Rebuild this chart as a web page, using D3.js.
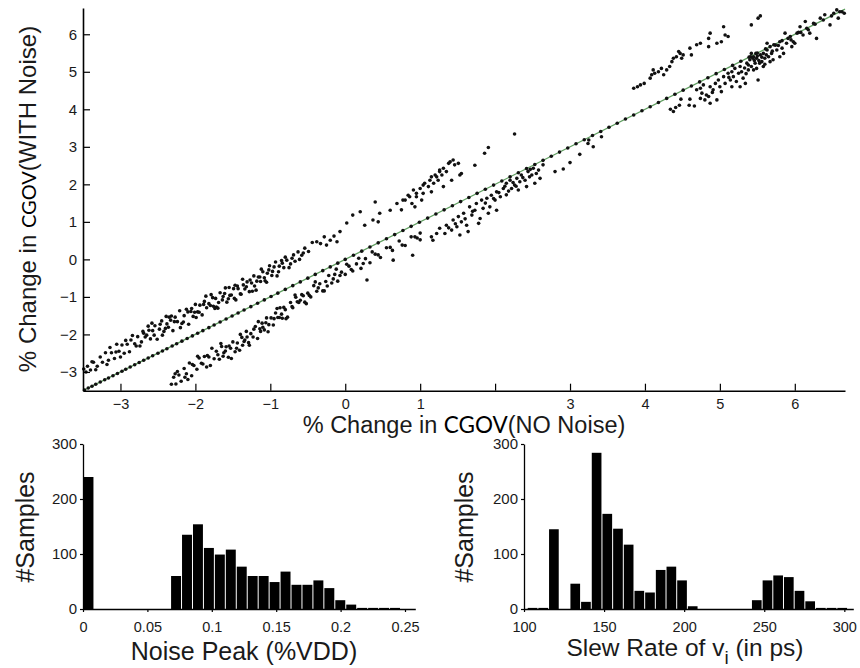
<!DOCTYPE html>
<html><head><meta charset="utf-8">
<script src="https://cdn.jsdelivr.net/npm/d3@7"></script>
<style>body{margin:0;background:#fff} svg{display:block}</style>
</head><body>
<svg id="c" width="860" height="668"></svg>
<script>
// ---------- DATA ----------
const xTicks = [-3,-2,-1,0,1,2,3,4,5,6];
const xTickLabels = ["\u22123","\u22122","\u22121","0","1","","3","4","5","6"];
const yTicks = [-3,-2,-1,0,1,2,3,4,5,6];
const yTickLabels = ["\u22123","\u22122","\u22121","0","1","2","3","4","5","6"];
const lineEnds = [-3.5, 6.67];

const upperBand = [
[-3.49,-2.92],[-3.46,-3.0],[-3.44,-2.85],[-3.40,-2.95],[-3.36,-2.74],[-3.31,-2.85],[-3.27,-2.60],[-3.24,-2.74],[-3.20,-2.49],[-3.16,-2.69],[-3.12,-2.49],[-3.08,-2.64],[-3.05,-2.26],[-3.02,-2.45],[-2.98,-2.28],[-2.95,-2.50],[-2.91,-2.26],[-2.88,-2.46],[-2.84,-2.03],[-2.81,-2.25],[-2.77,-2.06],[-2.74,-2.31],[-2.70,-1.92],[-2.67,-2.07],[-2.63,-1.78],[-2.60,-2.12],[-2.57,-1.90],[-2.54,-1.77],[-2.51,-2.13],[-2.48,-1.86],[-2.45,-1.64],[-2.42,-1.92],[-2.39,-1.52],[-2.36,-1.81],[-2.33,-1.62],[-2.30,-1.90],[-2.27,-1.54],[-2.24,-1.66],[-2.21,-1.37],[-2.18,-1.71],[-2.15,-1.50],[-2.12,-1.33],[-2.09,-1.73],[-2.06,-1.39],[-2.03,-1.52],[-2.00,-1.20],[-1.97,-1.40],[-1.94,-1.22],[-1.91,-1.48],[-1.88,-1.12],[-1.85,-1.29],[-1.82,-1.18],[-1.79,-0.94],[-1.76,-1.25],[-1.73,-1.04],[-1.70,-1.30],[-1.67,-0.89],[-1.64,-1.08],[-1.61,-0.91],[-1.58,-1.14],[-1.55,-0.75],[-1.52,-0.95],[-1.49,-0.78],[-1.46,-1.08],[-1.43,-0.78],[-1.40,-0.92],[-1.37,-0.53],[-1.34,-0.79],[-1.31,-0.60],[-1.28,-0.86],[-1.25,-0.63],[-1.22,-0.44],[-1.19,-0.82],[-1.16,-0.47],[-1.13,-0.59],[-1.10,-0.33],[-1.07,-0.57],[-1.04,-0.37],[-1.01,-0.17],[-0.98,-0.43],[-0.95,-0.20],[-0.91,-0.44],[-0.88,-0.18],[-0.85,-0.03],[-0.82,-0.22],[-0.78,-0.02],[-0.75,-0.22],[-0.71,0.03],[-0.67,-0.05],[-0.63,0.20],[-0.58,0.11],[-0.54,0.30],[-0.49,0.21],[-0.44,0.45],[-0.38,0.47],
[-3.33,-2.94],[-3.14,-2.35],[-3.00,-2.60],[-2.86,-2.15],[-2.72,-2.20],[-2.58,-1.70],[-2.44,-2.02],[-2.32,-1.51],[-2.20,-1.82],[-2.10,-1.40],[-1.99,-1.55],[-1.86,-0.98],[-1.72,-1.27],[-1.60,-0.76],[-1.48,-1.04],[-1.36,-0.68],[-1.24,-0.85],[-1.12,-0.26],[-1.05,-0.61],[-0.93,-0.07],[-0.80,0.06],[-2.65,-2.02],[-2.38,-1.72],[-1.80,-1.23],[-1.54,-0.96],[-1.18,-0.58],
[-3.38,-2.73],[-3.18,-2.80],[-3.06,-2.47],[-2.93,-2.16],[-2.79,-2.31],[-2.69,-1.97],[-2.55,-2.02],[-2.47,-1.73],[-2.40,-1.84],[-2.28,-1.66],[-2.16,-1.67],[-2.05,-1.31],[-1.95,-1.41],[-1.89,-1.20],[-1.77,-1.02],[-1.69,-1.15],[-1.63,-0.99],[-1.56,-1.05],[-1.44,-0.71],[-1.39,-0.93],[-1.32,-0.73],[-1.21,-0.71],[-1.14,-0.47],[-1.08,-0.49],[-0.97,-0.32],[-0.89,-0.33],[-0.84,-0.10],[-0.73,-0.12],[-0.69,0.12],[-0.61,0.00],[-0.56,0.17],[-2.62,-1.89],[-2.35,-1.54],[-2.01,-1.41],[-1.74,-1.31],[-1.47,-0.69],[-1.27,-0.55],[-1.02,-0.28],
[-0.33,0.42],[-0.28,0.60],[-0.25,0.38],[-0.20,0.51],[-0.15,0.62],[-0.11,0.47],[-0.07,0.74],[0.02,0.97],[0.10,1.18],[0.20,1.27],[0.26,0.91],[0.37,1.05],[0.40,1.53],[0.44,1.00],[0.46,1.23],[0.60,1.31],[0.69,1.49],[0.77,1.58],[0.86,1.67],[0.95,1.76],[1.04,1.98],[1.13,2.11],[1.20,2.25],
[0.75,1.32],[0.80,1.58],[0.84,1.71],[0.89,1.49],[0.91,1.85],[0.95,1.67],[1.00,1.89],[1.04,1.76],[1.06,2.03],[1.11,1.94],[1.18,2.03],[1.22,2.20],[1.24,2.11],[1.26,2.34],[1.29,2.25],[1.31,2.43],[1.35,2.34],[1.40,2.60],[1.44,2.65],[1.46,2.52],[1.51,2.56],[1.53,2.25],[1.42,2.11],[1.31,1.94],[1.15,1.80],[1.02,1.58],[0.93,1.40],
[1.15,2.20],[1.26,2.38],[1.38,2.56],[1.55,2.29],
[1.73,2.51],[1.86,2.83],[1.91,2.98],[2.26,3.34]
];

const lowerBand = [
[-2.32,-3.33],[-2.29,-3.14],[-2.26,-3.32],[-2.22,-3.08],[-2.19,-3.25],[-2.15,-2.91],[-2.12,-3.05],[-2.08,-2.76],[-2.05,-3.10],[-2.02,-2.83],[-1.98,-2.93],[-1.95,-2.63],[-1.92,-2.77],[-1.88,-2.59],[-1.85,-2.87],[-1.82,-2.60],[-1.78,-2.37],[-1.75,-2.65],[-1.72,-2.45],[-1.68,-2.66],[-1.65,-2.32],[-1.62,-2.49],[-1.59,-2.33],[-1.56,-2.61],[-1.53,-2.37],[-1.50,-2.20],[-1.47,-2.46],[-1.44,-2.23],[-1.41,-2.42],[-1.38,-2.08],[-1.35,-2.19],[-1.32,-1.92],[-1.29,-2.22],[-1.26,-1.98],[-1.23,-2.07],[-1.20,-1.79],[-1.17,-2.11],[-1.14,-1.85],[-1.11,-1.70],[-1.08,-1.88],[-1.05,-1.56],[-1.02,-1.74],[-0.99,-1.56],[-0.96,-1.75],[-0.93,-1.43],[-0.90,-1.55],[-0.87,-1.29],[-0.84,-1.57],[-0.80,-1.34],[-0.77,-1.54],[-0.73,-1.15],[-0.70,-1.29],[-0.66,-1.01],[-0.62,-1.15],[-0.58,-0.94],[-0.54,-1.14],[-0.50,-0.90],[-0.46,-1.00],[-0.42,-0.70],[-0.38,-0.85],[-0.34,-0.65],[-0.30,-0.84],[-0.26,-0.59],[-0.22,-0.43],[-0.18,-0.63],[-0.14,-0.40],[-0.10,-0.58],[-0.05,-0.34],[0.00,-0.40],[0.05,-0.18],[0.10,-0.31],[0.15,-0.12],[0.21,-0.24],[0.27,0.02],[0.33,-0.09],[0.40,0.14],[0.47,0.05],[0.55,0.31],[0.63,0.24],[0.72,0.49],[0.80,0.37],[0.88,0.60],[0.96,0.57],
[-2.24,-2.99],[-2.10,-3.20],[-1.97,-2.58],[-1.80,-2.83],[-1.66,-2.24],[-1.52,-2.64],[-1.40,-2.00],[-1.28,-2.29],[-1.16,-1.66],[-1.03,-1.93],[-0.91,-1.31],[-0.79,-1.58],[-0.67,-0.95],[-0.52,-1.18],[-0.40,-0.60],[-0.28,-0.84],[-0.12,-0.26],[0.02,-0.13],[0.18,0.03],[0.36,0.20],[-1.60,-2.44],[-1.34,-2.15],[-1.10,-1.81],[-0.85,-1.46],[-0.60,-1.09],
[-2.27,-3.05],[-2.14,-3.14],[-2.04,-2.80],[-1.90,-2.79],[-1.84,-2.56],[-1.70,-2.54],[-1.63,-2.58],[-1.55,-2.31],[-1.45,-2.37],[-1.37,-2.29],[-1.31,-2.07],[-1.22,-1.86],[-1.13,-1.92],[-1.06,-1.69],[-0.95,-1.58],[-0.88,-1.55],[-0.82,-1.28],[-0.71,-1.26],[-0.64,-1.13],[-0.56,-0.97],[-0.48,-0.96],[-0.36,-0.76],[-0.24,-0.71],[-0.16,-0.52],[-0.07,-0.43],[0.08,-0.27],[0.24,-0.11],[0.44,0.12],[0.60,0.32],[0.76,0.38],
[1.00,0.70],[1.17,0.51],[0.90,0.11],[0.64,-0.02],[0.29,-0.55]
];

const midCluster = [
[0.93,0.60],[1.00,0.52],[1.15,0.60],[1.22,0.69],[1.26,0.83],[1.33,0.69],[1.35,0.91],[1.42,0.78],[1.44,1.05],[1.49,0.87],[1.51,1.14],[1.55,1.00],[1.58,1.23],[1.62,0.91],[1.66,1.40],[1.69,1.18],[1.73,1.31],[1.75,1.49],[1.80,1.09],[1.82,1.58],[1.84,1.36],[1.89,1.63],[1.93,1.40],[1.95,1.71],[2.00,1.58],[2.02,1.80],[2.07,1.67],[2.11,1.89],[2.15,2.03],[2.20,2.11],[2.22,1.89],[2.26,1.98],[2.29,2.16],[2.33,2.07],[2.35,2.25],[2.40,2.11],[2.44,2.34],[2.49,2.25],[2.51,2.43],[2.55,2.29],[2.60,2.16],[2.64,2.52],[2.53,2.03],[2.42,1.94],[2.31,1.85],[2.15,1.72],[2.02,1.31],[1.91,1.23],[1.78,0.96],[1.64,0.74],[1.53,0.65],
[1.70,1.28],[1.87,1.50],[1.98,1.62],[2.05,1.78],[2.13,1.95],[2.18,1.82],[2.24,2.05],[2.28,1.95],[2.37,2.18],[2.46,2.20],[2.58,2.38],[2.47,2.40],[1.60,1.08],[1.47,0.95],[1.38,0.84],
[2.80,2.34],[2.91,2.41],[3.00,2.58],[3.13,2.80],[3.31,3.00],[3.24,3.09],[3.25,3.18],[3.42,3.27]
];

const upperRight = [
[3.85,4.56],[3.90,4.60],[3.94,4.65],[3.99,4.69],[4.07,4.83],[4.09,4.92],[4.13,4.96],[4.18,5.00],[4.11,5.05],[4.22,5.09],[4.25,4.92],[4.29,5.05],[4.33,5.14],[4.36,5.27],[4.38,5.36],[4.42,5.40],[4.47,5.49],[4.49,5.36],[4.45,5.54],[4.51,5.45],[4.60,5.63],[4.62,5.45],[4.69,5.72],[4.74,5.76],[4.85,5.89],[4.87,6.03],[4.85,5.67],[4.96,5.76],[5.02,5.80],[5.05,6.20],[5.07,5.98],[5.11,5.94],[5.42,6.25],[5.51,6.43],[5.54,6.49]
];

const rightCluster = [
[4.34,4.00],[4.38,3.94],[4.41,4.05],[4.46,4.11],[4.48,4.27],[4.59,4.11],[4.66,4.09],[4.60,4.27],[4.69,4.52],[4.74,4.56],[4.76,4.43],[4.80,4.25],[4.82,4.38],[4.78,4.65],[4.87,4.60],[4.85,4.34],[4.91,4.52],[4.94,4.69],[4.98,4.78],[5.00,4.60],[5.05,4.87],[5.07,4.69],[5.11,4.96],[5.14,4.78],[5.16,5.00],[5.18,4.87],[5.20,5.09],[5.22,4.74],[5.25,4.96],[5.27,5.14],[5.29,5.00],[5.31,4.83],[5.36,5.23],[5.38,5.05],[5.40,5.32],[5.42,5.14],[5.45,5.40],[5.47,5.23],[5.49,5.36],[5.51,4.78],[5.54,5.45],[5.56,5.27],[5.58,5.49],[5.60,5.36],[5.63,5.58],[5.65,5.40],[5.67,5.67],[5.69,5.49],[5.71,5.32],[5.74,5.71],[5.76,5.58],[5.80,5.80],[5.83,5.63],[5.85,5.49],[5.87,6.03],[5.89,5.76],[5.91,5.89],[5.96,5.67],[5.98,5.80],[6.00,5.76],[6.03,6.03],[6.07,6.20],[6.11,5.98],[6.14,6.34],[6.18,6.12],[6.20,6.03],[6.25,6.29],[6.29,5.89],[6.34,6.43],[6.40,6.52],[6.47,6.25],[6.52,6.56],[6.56,6.65],[6.58,6.43],[6.63,6.60],[6.66,6.56],
[5.63,5.76],[5.49,5.09],[5.34,4.69],[5.16,4.60],[5.02,4.47],[4.96,4.25],[4.74,4.29],[4.87,4.16],[5.42,5.49],[5.67,5.27],[5.80,5.40],[5.58,5.14],[5.27,4.60],
[5.46,5.30],[5.50,5.42],[5.53,5.23],[5.44,5.36],[5.48,5.49],[5.56,5.39],[5.38,5.18],[5.41,5.40],
[5.33,5.10],[5.35,4.95],[5.52,5.30],[5.60,5.20],[5.70,5.55],[5.62,5.45],[5.45,5.05],[5.12,4.85],[4.90,4.45],[5.78,5.70],[5.95,5.85],[6.08,6.05]
];

// samples lying on y = x (read along the diagonal)
const diagX = [-3.48,-3.43,-3.38,-3.33,-3.27,-3.21,-3.16,-3.10,-3.04,-2.98,-2.93,-2.87,-2.81,-2.75,-2.69,-2.63,-2.57,-2.50,-2.44,-2.38,-2.31,-2.25,-2.18,-2.11,-2.04,-1.97,-1.90,-1.82,-1.75,-1.67,-1.59,-1.51,-1.43,-1.35,-1.26,-1.17,-1.08,-0.99,-0.90,-0.80,-0.70,-0.60,-0.50,-0.40,-0.30,-0.20,-0.10,0.00,0.11,0.22,0.33,0.44,0.55,0.66,0.77,0.88,0.99,1.10,1.21,1.32,1.43,1.54,1.65,1.76,1.87,1.98,2.09,2.20,2.31,2.42,2.53,2.64,2.75,2.86,2.97,3.08,3.19,3.30,3.41,3.52,3.63,3.74,3.85,3.96,4.07,4.18,4.29,4.40,4.51,4.62,4.73,4.84,4.95,5.06,5.17,5.28,5.39,5.50,5.61,5.72,5.83,5.94,6.05,6.16,6.27,6.38,6.49,6.60];

// Noise peak histogram (bin width 0.0085 %VDD, starting at 0)
const noiseBinStart = 0, noiseBinWidth = 0.0085;
const noiseCounts = [240,0,0,0,0,0,0,0,60,135,154,111,99,108,77,60,60,49,68,44,44,52,38,16,8,2,2,2,2,0];
const noiseTicks = [0,0.05,0.1,0.15,0.2,0.25];
const noiseTickLabels = ["0","0.05","0.1","0.15","0.2","0.25"];

// Slew rate histogram (bin width 6.667 ps, starting at 102)
const slewBinStart = 102, slewBinWidth = 6.667;
const slewCounts = [2,2,145,0,46,13,284,173,146,117,33,30,71,77,52,5,0,0,0,0,0,16,52,61,58,33,14,2,2,2];
const slewTicks = [100,150,200,250,300];
const slewTickLabels = ["100","150","200","250","300"];

const histYTicks = [0,100,200,300];
const histYTickLabels = ["0","100","200","300"];

// ---------- DRAW ----------
const svg = d3.select("#c");
const FONT = "'Liberation Sans', Arial, Helvetica, sans-serif";
const TXT = "#1a1a1a";

function styleAxis(g, size, sw) {
  g.attr("font-family", FONT).attr("font-size", size);
  g.select(".domain").attr("stroke", "#000").attr("stroke-width", sw);
  g.selectAll(".tick line").attr("stroke", "#000").attr("stroke-width", 1.2);
  g.selectAll(".tick text").attr("fill", TXT);
}

// Scatter
const sx = d3.scaleLinear().domain([-3.5, 6.67]).range([83, 845]);
const sy = d3.scaleLinear().domain([-3.5, 6.7]).range([390.7, 8]);

svg.append("path")
  .datum(lineEnds)
  .attr("d", d3.line().x(d => sx(d)).y(d => sy(d)))
  .attr("stroke", "#5f9e5f").attr("stroke-width", 1.3).attr("fill", "none");

const pts = [].concat(upperBand, lowerBand, midCluster, upperRight, rightCluster, diagX.map(v => [v, v]));
svg.append("g").selectAll("circle").data(pts).join("circle")
  .attr("cx", d => sx(d[0])).attr("cy", d => sy(d[1]))
  .attr("r", 1.8).attr("fill", "#111");

const gx = svg.append("g").attr("transform", "translate(0,390.7)")
  .call(d3.axisBottom(sx).tickValues(xTicks).tickFormat((d, i) => xTickLabels[i])
    .tickSizeInner(-7).tickSizeOuter(0).tickPadding(8));
styleAxis(gx, 14.5, 1.6);
const gy = svg.append("g").attr("transform", "translate(83,0)")
  .call(d3.axisLeft(sy).tickValues(yTicks).tickFormat((d, i) => yTickLabels[i])
    .tickSizeInner(-7).tickSizeOuter(0).tickPadding(6));
styleAxis(gy, 15, 1.6);

// scatter labels
const xl = svg.append("text").attr("x", 464).attr("y", 432.5).attr("text-anchor", "middle")
  .attr("font-family", FONT).attr("font-size", 23.5).attr("fill", TXT);
xl.append("tspan").text("% Change in ");
xl.append("tspan").attr("font-family", "Lato, 'Open Sans', sans-serif").attr("font-size", 22.5).attr("fill", "#000").text("CGOV");
xl.append("tspan").text("(NO Noise)");

const yl = svg.append("text").attr("transform", "translate(36,199) rotate(-90)").attr("text-anchor", "middle")
  .attr("font-family", FONT).attr("font-size", 24).attr("fill", TXT);
yl.append("tspan").text("% Change in ");
yl.append("tspan").attr("font-family", "Lato, 'Open Sans', sans-serif").attr("font-size", 20).attr("fill", "#000").text("CGOV");
yl.append("tspan").text("(WITH Noise)");

// Histograms
const hy = d3.scaleLinear().domain([0, 300]).range([609, 444]);

function histogram(xs, x0, counts, start, width, ticks, tickLabels) {
  const g = svg.append("g");
  const ax = g.append("g").attr("transform", "translate(0,609)")
    .call(d3.axisBottom(xs).tickValues(ticks).tickFormat((d, i) => tickLabels[i])
      .tickSizeInner(3).tickSizeOuter(0).tickPadding(10));
  styleAxis(ax, 14.5, 1.3);
  const ay = g.append("g").attr("transform", `translate(${x0},0)`)
    .call(d3.axisLeft(hy).tickValues(histYTicks).tickFormat((d, i) => histYTickLabels[i])
      .tickSizeInner(3).tickSizeOuter(0).tickPadding(3));
  styleAxis(ay, 15, 1.3);
  g.append("g").selectAll("rect").data(counts).join("rect")
    .attr("x", (d, i) => xs(start + i * width) + 0.5)
    .attr("width", (d, i) => xs(start + (i + 1) * width) - xs(start + i * width) - 1)
    .attr("y", d => hy(d))
    .attr("height", d => hy(0) - hy(d))
    .attr("fill", "#000");
}

const nx = d3.scaleLinear().domain([0, 0.258]).range([83, 415.3]);
histogram(nx, 83, noiseCounts, noiseBinStart, noiseBinWidth, noiseTicks, noiseTickLabels);
const rx = d3.scaleLinear().domain([100, 305.6]).range([524, 853.3]);
histogram(rx, 524, slewCounts, slewBinStart, slewBinWidth, slewTicks, slewTickLabels);

// histogram labels
svg.append("text").attr("transform", "translate(34,527) rotate(-90)").attr("text-anchor", "middle")
  .attr("font-family", FONT).attr("font-size", 25).attr("fill", TXT).text("#Samples");
svg.append("text").attr("transform", "translate(473,527) rotate(-90)").attr("text-anchor", "middle")
  .attr("font-family", FONT).attr("font-size", 25).attr("fill", TXT).text("#Samples");
svg.append("text").attr("x", 244).attr("y", 660).attr("text-anchor", "middle")
  .attr("font-family", FONT).attr("font-size", 25).attr("fill", TXT).text("Noise Peak (%VDD)");
const sl = svg.append("text").attr("x", 685).attr("y", 656).attr("text-anchor", "middle")
  .attr("font-family", FONT).attr("font-size", 24.5).attr("fill", TXT);
sl.append("tspan").text("Slew Rate of v");
sl.append("tspan").attr("font-size", 19).attr("dy", 8).text("i");
sl.append("tspan").attr("dy", -8).text(" (in ps)");
</script>
</body></html>
